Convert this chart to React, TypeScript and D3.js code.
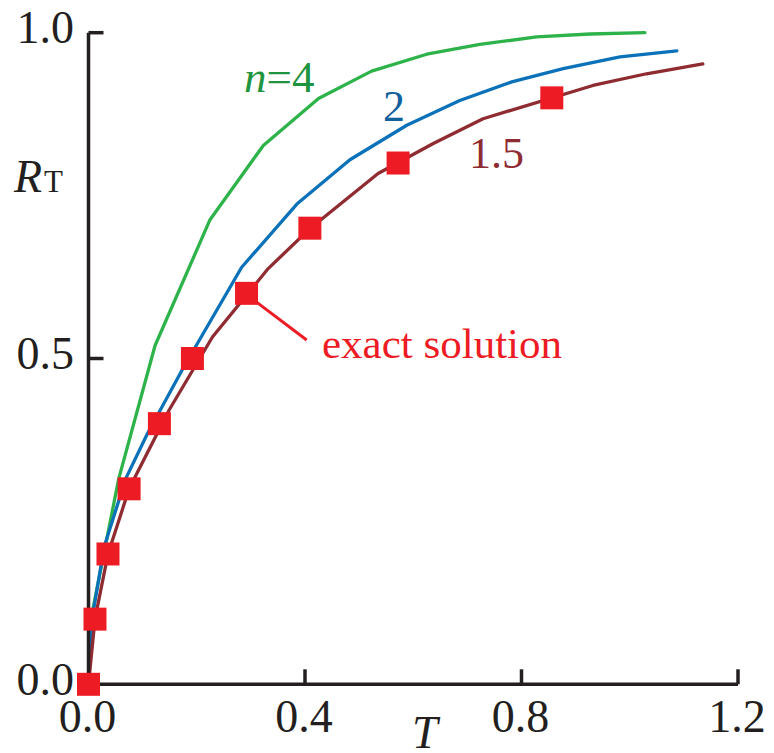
import React from "react";
import * as d3 from "d3";

// Approximate curves R_T(T) for three exponents n, plus the exact solution.
const curveN4: [number, number][] = [
  [0, 0], [0.009, 0.119], [0.056, 0.316], [0.123, 0.52], [0.2245, 0.713],
  [0.323, 0.827], [0.425, 0.899], [0.523, 0.941], [0.625, 0.967],
  [0.723, 0.982], [0.828, 0.9935], [0.927, 0.998], [1.028, 1.0],
];
const curveN2: [number, number][] = [
  [0, 0], [0.007, 0.103], [0.029, 0.211], [0.069, 0.316], [0.109, 0.385],
  [0.176, 0.487], [0.283, 0.64], [0.385, 0.737], [0.483, 0.805],
  [0.588, 0.858], [0.686, 0.896], [0.782, 0.9245], [0.877, 0.945],
  [0.982, 0.963], [1.087, 0.972],
];
const curveN15: [number, number][] = [
  [0, 0], [0.012, 0.1], [0.036, 0.2], [0.075, 0.3], [0.149, 0.421],
  [0.229, 0.533], [0.332, 0.638], [0.41, 0.7], [0.535, 0.784],
  [0.637, 0.83], [0.729, 0.868], [0.932, 0.919], [1.031, 0.937],
  [1.135, 0.952],
];
const exactT = [0, 0.012, 0.036, 0.075, 0.131, 0.192, 0.292, 0.409, 0.572, 0.856];
const exactR = [0, 0.1, 0.2, 0.3, 0.4, 0.5, 0.6, 0.7, 0.8, 0.9];

const xTicks = [0, 0.4, 0.8, 1.2];
const yTicks = [0, 0.5, 1.0];

const FONT = "Liberation Serif, Times New Roman, Times, serif";
const AXIS = "#231f20";
const GREEN = "#2db34a";
const BLUE = "#0b72b9";
const BROWN = "#8f2c32";
const RED = "#ed1c24";

const serif = { fontFamily: FONT };

export default function App() {
  const x = d3.scaleLinear().domain([0, 1.2]).range([88.5, 738]);
  const y = d3.scaleLinear().domain([0, 1]).range([684.3, 32.7]);
  const line = d3
    .line<[number, number]>()
    .x((d) => x(d[0]))
    .y((d) => y(d[1]));

  const markerSize = 23;
  const leaderIdx = 6;

  return (
    <svg
      width={774}
      height={753}
      style={{ position: "absolute", left: 0, top: 0, background: "#fff" }}
    >
      {/* curves */}
      <path d={line(curveN4) ?? ""} fill="none" stroke={GREEN} strokeWidth={3.3} strokeLinejoin="round" strokeLinecap="round" />
      <path d={line(curveN2) ?? ""} fill="none" stroke={BLUE} strokeWidth={3.3} strokeLinejoin="round" strokeLinecap="round" />
      <path d={line(curveN15) ?? ""} fill="none" stroke={BROWN} strokeWidth={3.3} strokeLinejoin="round" strokeLinecap="round" />

      {/* leader to the exact-solution label */}
      <line
        x1={x(exactT[leaderIdx]) + 9}
        y1={y(exactR[leaderIdx]) + 8}
        x2={306.7}
        y2={340}
        stroke={RED}
        strokeWidth={3}
      />

      {/* axes */}
      <path
        d={`M${x(0)},${y(1)}V${y(0)}H${x(1.2)}`}
        fill="none"
        stroke={AXIS}
        strokeWidth={3.5}
      />
      {yTicks.filter((v) => v > 0).map((v) => (
        <line key={"yt" + v} x1={x(0)} x2={x(0) + 15} y1={y(v)} y2={y(v)} stroke={AXIS} strokeWidth={3.5} />
      ))}
      {xTicks.filter((v) => v > 0).map((v) => (
        <line key={"xt" + v} x1={x(v)} x2={x(v)} y1={y(0)} y2={y(0) - 15} stroke={AXIS} strokeWidth={3.5} />
      ))}

      {/* exact solution markers */}
      {exactT.map((t, i) => (
        <rect
          key={"m" + i}
          x={x(t) - markerSize / 2}
          y={y(exactR[i]) - markerSize / 2}
          width={markerSize}
          height={markerSize}
          fill={RED}
        />
      ))}

      {/* tick labels */}
      {yTicks.map((v) => (
        <text key={"yl" + v} x={74} y={y(v) + 10.5} fontSize={46} textAnchor="end" fill={AXIS} style={serif}>
          {v.toFixed(1)}
        </text>
      ))}
      {xTicks.map((v) => (
        <text key={"xl" + v} x={x(v) - 1} y={732} fontSize={46} textAnchor="middle" fill={AXIS} style={serif}>
          {v.toFixed(1)}
        </text>
      ))}

      {/* axis titles */}
      <text x={14} y={192} fontSize={46} fill={AXIS} style={serif}>
        <tspan fontStyle="italic" style={serif}>R</tspan>
        <tspan fontSize={31} dx={2} style={serif}>T</tspan>
      </text>
      <text x={412} y={748} fontSize={46} fontStyle="italic" fill={AXIS} style={serif}>
        T
      </text>

      {/* series labels */}
      <text x={244} y={92} fontSize={45} fill="#1f9440" style={serif}>
        <tspan fontStyle="italic" style={serif}>n</tspan>=4
      </text>
      <text x={383} y={121} fontSize={44} fill="#12609c" style={serif}>
        2
      </text>
      <text x={469} y={168} fontSize={44} fill={BROWN} style={serif}>
        1.5
      </text>
      <text x={322} y={358} fontSize={43} fill={RED} style={serif}>
        exact solution
      </text>
    </svg>
  );
}
